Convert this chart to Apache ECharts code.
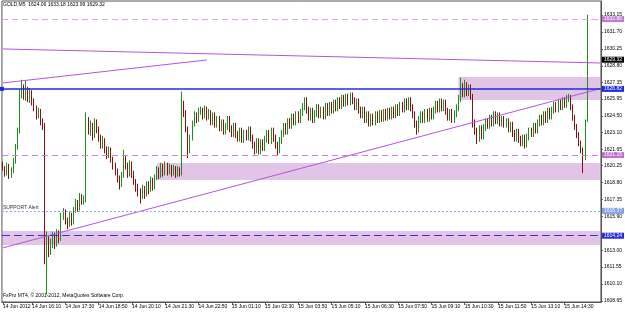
<!DOCTYPE html>
<html>
<head>
<meta charset="utf-8">
<script src="https://cdn.jsdelivr.net/npm/echarts@6/dist/echarts.min.js"></script>
<style>
  html, body { margin: 0; padding: 0; background: #fff; }
  #chart { width: 625px; height: 313px; }
</style>
</head>
<body>
<div id="chart"></div>
<script>
// GOLD M5 bars, 14 Jun 15:00 .. 15 Jun 15:25
const opens = [
  1620.3,1620.0,1619.6,1620.2,1619.4,1619.8,1620.6,1621.8,1623.2,1626.4,
  1626.9,1626.2,1626.8,1626.0,1626.5,1625.7,1625.2,1624.6,1624.9,1624.0,
  1623.6,1612.2,1613.8,1612.9,1613.6,1614.2,1613.5,1614.4,1614.0,1615.9,
  1616.3,1615.5,1615.2,1616.0,1615.4,1616.4,1617.0,1616.6,1617.6,1617.2,
  1617.4,1624.0,1623.2,1623.6,1622.8,1623.9,1623.4,1622.6,1622.0,1622.4,
  1621.6,1621.2,1621.6,1620.8,1620.3,1619.8,1619.2,1618.6,1619.4,1620.8,
  1620.2,1619.6,1620.4,1619.5,1618.9,1618.4,1618.0,1617.6,1618.3,1617.8,
  1618.6,1618.2,1619.0,1618.4,1619.2,1619.8,1619.4,1620.2,1619.6,1620.3,
  1619.7,1620.1,1619.6,1620.0,1619.5,1619.9,1619.6,1625.4,1624.8,1623.4,
  1621.6,1622.6,1623.8,1624.6,1624.2,1624.9,1625.0,1624.5,1625.1,1624.4,
  1624.8,1624.0,1624.5,1623.8,1624.2,1623.5,1623.9,1623.2,1623.6,1624.2,
  1623.4,1623.0,1623.6,1622.9,1622.6,1623.2,1622.5,1623.0,1622.7,1623.3,
  1622.6,1622.0,1621.6,1622.3,1621.5,1622.2,1621.8,1622.5,1623.0,1622.4,
  1623.2,1622.6,1622.0,1621.6,1622.4,1623.0,1623.6,1623.2,1624.0,1623.7,
  1624.4,1624.0,1624.6,1624.2,1624.8,1625.3,1625.8,1625.0,1624.4,1624.9,
  1624.2,1624.7,1625.2,1624.6,1625.0,1624.5,1625.3,1624.8,1625.4,1625.0,
  1625.6,1625.2,1625.8,1625.4,1626.0,1625.6,1626.1,1625.7,1626.2,1625.8,
  1625.3,1625.7,1625.0,1624.6,1625.0,1624.2,1624.6,1623.9,1624.4,1624.0,
  1624.6,1624.2,1624.7,1624.3,1624.8,1624.4,1624.9,1624.5,1625.0,1624.6,
  1625.2,1624.8,1625.4,1625.1,1625.7,1625.3,1625.8,1625.2,1624.6,1623.8,
  1623.4,1624.2,1624.6,1624.2,1624.8,1624.3,1624.9,1624.5,1625.0,1625.5,
  1625.1,1625.7,1625.2,1625.6,1624.9,1624.4,1624.8,1624.2,1624.7,1625.2,
  1626.0,1627.0,1626.4,1627.1,1626.5,1626.9,1626.2,1623.9,1623.2,1622.6,
  1623.4,1622.8,1623.5,1624.0,1623.7,1624.3,1623.9,1624.6,1624.1,1624.5,
  1623.9,1624.2,1623.8,1624.0,1623.4,1623.7,1623.0,1622.6,1623.1,1622.5,
  1622.2,1622.6,1622.1,1622.7,1623.2,1623.0,1623.6,1623.3,1623.9,1624.3,
  1624.0,1624.6,1624.2,1624.9,1624.5,1625.0,1625.4,1625.1,1625.6,1625.3,
  1625.8,1625.5,1626.0,1626.1,1625.3,1624.4,1623.6,1622.9,1622.2,1621.6,
  1620.9,1624.06
];
const closes = [
  1620.0,1619.6,1620.2,1619.4,1619.8,1620.6,1621.8,1623.2,1626.4,1626.9,
  1626.2,1626.8,1626.0,1626.5,1625.7,1625.2,1624.6,1624.9,1624.0,1623.6,
  1612.2,1613.8,1612.9,1613.6,1614.2,1613.5,1614.4,1614.0,1615.9,1616.3,
  1615.5,1615.2,1616.0,1615.4,1616.4,1617.0,1616.6,1617.6,1617.2,1617.4,
  1624.0,1623.2,1623.6,1622.8,1623.9,1623.4,1622.6,1622.0,1622.4,1621.6,
  1621.2,1621.6,1620.8,1620.3,1619.8,1619.2,1618.6,1619.4,1620.8,1620.2,
  1619.6,1620.4,1619.5,1618.9,1618.4,1618.0,1617.6,1618.3,1617.8,1618.6,
  1618.2,1619.0,1618.4,1619.2,1619.8,1619.4,1620.2,1619.6,1620.3,1619.7,
  1620.1,1619.6,1620.0,1619.5,1619.9,1619.6,1625.4,1624.8,1623.4,1621.6,
  1622.6,1623.8,1624.6,1624.2,1624.9,1625.0,1624.5,1625.1,1624.4,1624.8,
  1624.0,1624.5,1623.8,1624.2,1623.5,1623.9,1623.2,1623.6,1624.2,1623.4,
  1623.0,1623.6,1622.9,1622.6,1623.2,1622.5,1623.0,1622.7,1623.3,1622.6,
  1622.0,1621.6,1622.3,1621.5,1622.2,1621.8,1622.5,1623.0,1622.4,1623.2,
  1622.6,1622.0,1621.6,1622.4,1623.0,1623.6,1623.2,1624.0,1623.7,1624.4,
  1624.0,1624.6,1624.2,1624.8,1625.3,1625.8,1625.0,1624.4,1624.9,1624.2,
  1624.7,1625.2,1624.6,1625.0,1624.5,1625.3,1624.8,1625.4,1625.0,1625.6,
  1625.2,1625.8,1625.4,1626.0,1625.6,1626.1,1625.7,1626.2,1625.8,1625.3,
  1625.7,1625.0,1624.6,1625.0,1624.2,1624.6,1623.9,1624.4,1624.0,1624.6,
  1624.2,1624.7,1624.3,1624.8,1624.4,1624.9,1624.5,1625.0,1624.6,1625.2,
  1624.8,1625.4,1625.1,1625.7,1625.3,1625.8,1625.2,1624.6,1623.8,1623.4,
  1624.2,1624.6,1624.2,1624.8,1624.3,1624.9,1624.5,1625.0,1625.5,1625.1,
  1625.7,1625.2,1625.6,1624.9,1624.4,1624.8,1624.2,1624.7,1625.2,1626.0,
  1627.0,1626.4,1627.1,1626.5,1626.9,1626.2,1623.9,1623.2,1622.6,1623.4,
  1622.8,1623.5,1624.0,1623.7,1624.3,1623.9,1624.6,1624.1,1624.5,1623.9,
  1624.2,1623.8,1624.0,1623.4,1623.7,1623.0,1622.6,1623.1,1622.5,1622.2,
  1622.6,1622.1,1622.7,1623.2,1623.0,1623.6,1623.3,1623.9,1624.3,1624.0,
  1624.6,1624.2,1624.9,1624.5,1625.0,1625.4,1625.1,1625.6,1625.3,1625.8,
  1625.5,1626.0,1626.1,1625.3,1624.4,1623.6,1622.9,1622.2,1621.6,1620.9,
  1624.06,1629.32
];
const lows = [
  1619.8,1619.3,1619.4,1619.1,1619.2,1619.6,1620.4,1621.6,1623.0,1626.0,
  1625.9,1625.8,1625.7,1625.6,1625.4,1624.9,1624.2,1624.3,1623.7,1623.3,
  1611.8,1609.2,1612.4,1612.6,1613.2,1613.1,1613.3,1613.6,1613.8,1615.6,
  1615.2,1614.8,1615.0,1615.1,1615.2,1616.2,1616.3,1616.4,1616.9,1616.9,
  1617.1,1622.9,1622.8,1622.4,1622.6,1623.0,1622.3,1621.7,1621.7,1621.3,
  1620.8,1620.9,1620.5,1619.9,1619.4,1618.8,1618.2,1618.4,1619.2,1619.9,
  1619.2,1619.3,1619.2,1618.6,1618.0,1617.6,1617.0,1617.4,1617.4,1617.6,
  1617.8,1618.0,1618.1,1618.2,1619.0,1619.1,1619.2,1619.3,1619.4,1619.4,
  1619.5,1619.3,1619.4,1619.2,1619.3,1619.3,1619.4,1624.4,1623.1,1620.9,
  1621.3,1622.4,1623.6,1623.9,1624.0,1624.6,1624.2,1624.3,1624.1,1624.2,
  1623.7,1623.7,1623.5,1623.5,1623.2,1623.2,1622.9,1622.9,1623.3,1623.1,
  1622.7,1622.7,1622.6,1622.3,1622.3,1622.2,1622.2,1622.4,1622.4,1622.3,
  1621.7,1621.2,1621.3,1621.2,1621.2,1621.5,1621.5,1622.2,1622.1,1622.1,
  1622.3,1621.7,1621.1,1621.3,1622.1,1622.7,1622.9,1622.9,1623.4,1623.4,
  1623.7,1623.7,1623.9,1623.9,1624.5,1625.0,1624.7,1624.1,1624.1,1623.9,
  1623.9,1624.4,1624.3,1624.3,1624.2,1624.2,1624.5,1624.5,1624.7,1624.7,
  1624.9,1624.9,1625.1,1625.1,1625.3,1625.3,1625.4,1625.4,1625.5,1625.0,
  1625.0,1624.7,1624.3,1624.3,1623.9,1623.9,1623.6,1623.6,1623.7,1623.7,
  1623.9,1623.9,1624.0,1624.0,1624.1,1624.1,1624.2,1624.2,1624.3,1624.3,
  1624.5,1624.5,1624.8,1624.8,1625.0,1625.0,1624.9,1624.3,1623.5,1622.9,
  1623.1,1623.9,1623.9,1623.9,1624.0,1624.0,1624.2,1624.2,1624.7,1624.8,
  1624.8,1624.9,1624.9,1624.6,1624.1,1624.1,1623.9,1623.9,1624.4,1624.9,
  1625.7,1626.1,1626.1,1626.2,1626.2,1625.9,1623.5,1622.9,1622.1,1622.3,
  1622.5,1622.5,1623.2,1623.4,1623.4,1623.6,1623.6,1623.8,1623.8,1623.6,
  1623.6,1623.5,1623.5,1623.1,1623.1,1622.7,1622.3,1622.3,1622.2,1621.9,
  1621.9,1621.7,1621.8,1622.4,1622.7,1622.7,1623.0,1623.0,1623.6,1623.7,
  1623.7,1623.9,1623.9,1624.2,1624.2,1624.7,1624.8,1624.8,1625.0,1625.0,
  1625.2,1625.2,1625.7,1625.0,1624.1,1623.3,1622.6,1621.9,1621.3,1619.6,
  1620.7,1623.99
];
const highs = [
  1620.6,1620.2,1620.5,1620.4,1620.1,1620.9,1622.1,1623.5,1626.8,1627.6,
  1627.2,1627.5,1627.0,1626.9,1626.7,1626.0,1625.4,1625.2,1625.1,1624.3,
  1623.9,1614.6,1614.2,1614.0,1614.6,1614.5,1614.8,1614.7,1616.2,1616.6,
  1616.5,1615.8,1616.3,1616.2,1616.7,1617.4,1617.3,1617.9,1617.8,1617.7,
  1624.8,1624.4,1624.1,1623.9,1624.3,1624.2,1623.6,1622.9,1622.8,1622.6,
  1621.9,1621.9,1621.8,1621.0,1620.5,1620.0,1619.4,1619.7,1621.6,1621.1,
  1620.5,1620.7,1620.6,1619.8,1619.1,1618.7,1618.3,1618.6,1618.5,1618.9,
  1618.9,1619.3,1619.2,1619.5,1620.2,1620.1,1620.5,1620.4,1620.6,1620.5,
  1620.4,1620.3,1620.3,1620.2,1620.2,1620.1,1626.6,1625.8,1625.0,1623.6,
  1622.9,1624.1,1624.9,1624.8,1625.2,1625.3,1625.2,1625.4,1625.3,1625.1,
  1625.0,1624.8,1624.8,1624.5,1624.5,1624.2,1624.2,1623.9,1624.5,1624.5,
  1623.7,1623.9,1623.9,1623.2,1623.5,1623.5,1623.3,1623.3,1623.6,1623.6,
  1622.9,1622.3,1622.6,1622.6,1622.5,1622.5,1622.8,1623.3,1623.3,1623.5,
  1623.5,1622.9,1622.3,1622.7,1623.3,1623.9,1623.9,1624.3,1624.3,1624.7,
  1624.7,1624.9,1624.9,1625.1,1625.6,1626.1,1626.1,1625.3,1625.2,1625.2,
  1625.0,1625.5,1625.5,1625.3,1625.3,1625.6,1625.6,1625.7,1625.7,1625.9,
  1625.9,1626.1,1626.1,1626.3,1626.3,1626.4,1626.4,1626.5,1626.5,1626.1,
  1626.0,1626.0,1625.3,1625.3,1625.3,1624.9,1624.9,1624.7,1624.7,1624.9,
  1624.9,1625.0,1625.0,1625.1,1625.1,1625.2,1625.2,1625.3,1625.3,1625.5,
  1625.5,1625.7,1625.7,1626.0,1626.0,1626.1,1626.1,1625.5,1624.9,1624.1,
  1624.5,1624.9,1624.9,1625.1,1625.1,1625.2,1625.2,1625.3,1625.8,1625.8,
  1626.0,1626.0,1625.9,1625.9,1625.2,1625.1,1625.1,1625.0,1625.5,1626.3,
  1627.8,1627.3,1627.6,1627.4,1627.2,1627.2,1626.4,1624.2,1623.5,1623.7,
  1623.7,1623.8,1624.3,1624.3,1624.6,1624.6,1624.9,1624.9,1624.8,1624.8,
  1624.5,1624.5,1624.3,1624.3,1624.0,1624.0,1623.3,1623.4,1623.4,1622.8,
  1622.9,1622.9,1623.0,1623.5,1623.5,1623.9,1623.9,1624.2,1624.6,1624.6,
  1624.9,1624.9,1625.2,1625.2,1625.3,1625.7,1625.7,1625.9,1625.9,1626.1,
  1626.1,1626.3,1626.4,1626.3,1625.5,1624.6,1623.8,1623.1,1622.4,1621.8,
  1624.2,1633.18
];

// time scale labels and price scale labels
const timeLabels = [
  '14 Jun 2012', '14 Jun 16:10', '14 Jun 17:30', '14 Jun 18:50', '14 Jun 20:10',
  '14 Jun 21:30', '14 Jun 22:50', '15 Jun 01:10', '15 Jun 02:30', '15 Jun 03:50',
  '15 Jun 05:10', '15 Jun 06:30', '15 Jun 07:50', '15 Jun 09:10', '15 Jun 10:30',
  '15 Jun 11:50', '15 Jun 13:10', '15 Jun 14:30'
];
const priceTicks = [
  1608.65, 1610.10, 1611.55, 1613.00, 1615.90, 1617.35, 1618.80, 1620.25,
  1621.65, 1623.10, 1624.50, 1625.95, 1627.35, 1628.80, 1630.25, 1631.70, 1633.15
];

// horizontal levels drawn on the chart
const topLevel = 1632.80;
const bidPrice = 1629.32;
const resistLevel = 1626.82;
const midLevel = 1621.15;
const supportAlert = 1616.37;
const supportLevel = 1614.24;

// trend lines: [startIndex, startPrice, endIndex, endPrice]
const upperTrend = [0, 1630.24, 287, 1629.04];
const shortTrend = [0, 1627.33, 98, 1629.30];
const risingTrend = [0, 1613.20, 287, 1626.84];

// zones: [startIndex, top, bottom]
const zoneHigh = [219, 1627.84, 1625.87];
const zoneMid = [74, 1620.47, 1619.01];
const zoneLow = [0, 1614.64, 1613.44];

// bar times (M5, session break 23:10 -> 00:15)
const pad = n => (n < 10 ? '0' : '') + n;
const categories = [];
for (let i = 0; i < 288; i++) {
  let day, mins;
  if (i < 99) { day = '14 Jun'; mins = 15 * 60 + i * 5; }
  else { day = '15 Jun'; mins = 15 + (i - 99) * 5; }
  categories.push(day + ' ' + pad(Math.floor(mins / 60)) + ':' + pad(mins % 60));
}

const candles = opens.map((o, i) => [o, closes[i], lows[i], highs[i]]);

const chart = echarts.init(document.getElementById('chart'));
const FONT = 'Liberation Sans';
const labelIdx = (idx, val) => idx === 0 || (timeLabels.indexOf(val) > 0 && idx < opens.length);

const boxLabel = (text, bg) => ({
  show: true, position: 'end', formatter: text, distance: 1,
  backgroundColor: bg, color: '#fff', fontSize: 5, fontFamily: FONT,
  padding: [1, 2, 0, 2]
});
const hidden = { color: 'rgba(0,0,0,0)', width: 1, type: 'solid' };

const purpleArea = 'rgba(175,100,190,0.38)';
const purpleLine = '#b452dc';

chart.setOption({
  animation: false,
  textStyle: { fontFamily: FONT },
  grid: { left: 1, right: 21, top: 1, bottom: 11, show: true, borderColor: '#555', borderWidth: 1 },
  xAxis: {
    type: 'category',
    data: categories,
    axisLine: { show: true, lineStyle: { color: '#555' } },
    axisTick: { show: true, alignWithLabel: true, length: 3, interval: labelIdx, lineStyle: { color: '#555' } },
    axisLabel: {
      interval: labelIdx, align: 'left', margin: 2, fontSize: 5, color: '#000',
      formatter: (v, idx) => (idx === 0 ? timeLabels[0] : v)
    },
    splitLine: { show: false }
  },
  yAxis: {
    type: 'value',
    position: 'right',
    min: 1608.56,
    max: 1634.35,
    axisLine: { show: true, lineStyle: { color: '#555' } },
    axisTick: { show: true, length: 2, customValues: priceTicks, lineStyle: { color: '#555' } },
    axisLabel: {
      customValues: priceTicks, margin: 3, fontSize: 5, color: '#000',
      formatter: v => v.toFixed(2)
    },
    splitLine: { show: false }
  },
  graphic: [
    { type: 'text', left: 3, top: 2, style: { text: 'GOLD,M5  1624.06 1633.18 1623.99 1629.32', fontSize: 5, fontFamily: FONT, fill: '#000' } },
    { type: 'text', left: 3, top: 293, style: { text: 'FxPro MT4, © 2001-2012, MetaQuotes Software Corp.', fontSize: 5, fontFamily: FONT, fill: '#000' } }
  ],
  series: [{
    type: 'candlestick',
    data: candles,
    barWidth: 1,
    itemStyle: {
      color: '#1b8f1b', color0: '#8e0c0c',
      borderColor: '#1b8f1b', borderColor0: '#8e0c0c', borderWidth: 1
    },
    markArea: {
      silent: true,
      itemStyle: { color: purpleArea },
      data: [
        [{ xAxis: zoneHigh[0], yAxis: zoneHigh[1] }, { xAxis: 287, yAxis: zoneHigh[2] }],
        [{ xAxis: zoneMid[0], yAxis: zoneMid[1] }, { xAxis: 287, yAxis: zoneMid[2] }],
        [{ yAxis: zoneLow[1] }, { yAxis: zoneLow[2] }]
      ]
    },
    markLine: {
      silent: true,
      symbol: 'none',
      label: { show: false },
      data: [
        { yAxis: topLevel, lineStyle: { color: '#dca6e6', type: [6, 4], width: 1 }, label: boxLabel(topLevel.toFixed(2), '#c47ad4') },
        { yAxis: bidPrice, lineStyle: hidden, label: boxLabel(bidPrice.toFixed(2), '#000') },
        [{ coord: [upperTrend[0], upperTrend[1]], lineStyle: { color: purpleLine, type: 'solid', width: 1 } }, { coord: [upperTrend[2], upperTrend[3]] }],
        [{ coord: [shortTrend[0], shortTrend[1]], lineStyle: { color: purpleLine, type: 'solid', width: 1 } }, { coord: [shortTrend[2], shortTrend[3]] }],
        [{ coord: [risingTrend[0], risingTrend[1]], lineStyle: { color: purpleLine, type: 'solid', width: 1 } }, { coord: [risingTrend[2], risingTrend[3]] }],
        { yAxis: resistLevel, symbol: ['emptyRect', 'none'], symbolSize: 4, lineStyle: { color: '#1c2be6', type: 'solid', width: 1.5 }, label: boxLabel(resistLevel.toFixed(2), '#1c2be6') },
        { yAxis: midLevel, lineStyle: { color: '#c983da', type: [6, 4], width: 1 }, label: boxLabel(midLevel.toFixed(2), '#c070d0') },
        { yAxis: supportAlert, lineStyle: { color: '#8ea8ea', type: [2, 2], width: 1 }, label: boxLabel(supportAlert.toFixed(2), '#7f9fe8') },
        { yAxis: supportAlert, lineStyle: hidden, label: { show: true, position: 'insideStartTop', formatter: 'SUPPORT Alert', distance: 1, fontSize: 5, fontFamily: FONT, color: '#333' } },
        { yAxis: supportLevel, lineStyle: { color: '#3434d6', type: [8, 4], width: 1 }, label: boxLabel(supportLevel.toFixed(2), '#2a2ae0') }
      ]
    }
  }]
});
</script>
</body>
</html>
